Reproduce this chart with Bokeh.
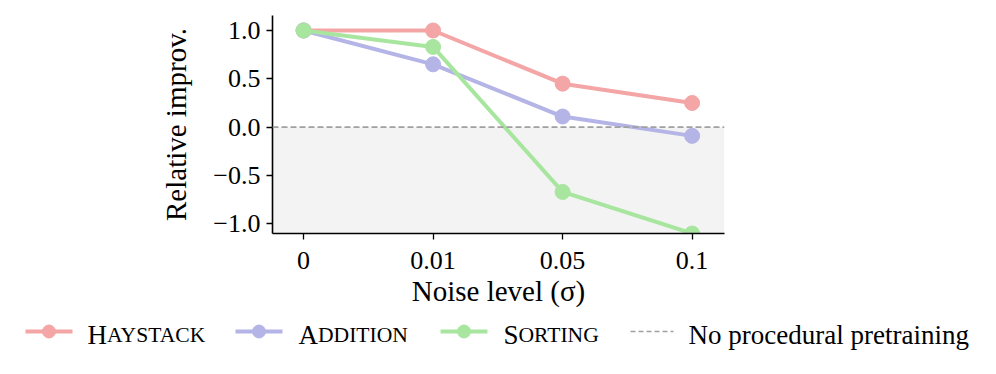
from bokeh.plotting import figure
from bokeh.models import (Range1d, FixedTicker, CustomJSTickFormatter, Span,
                          BoxAnnotation, ColumnDataSource)
from bokeh.core.properties import value
from bokeh.embed import file_html
from bokeh.resources import INLINE

# ---- data ----
noise_labels = ["0", "0.01", "0.05", "0.1"]
haystack = [1.0, 1.0, 0.45, 0.25]
addition = [1.0, 0.65, 0.11, -0.09]
sorting = [1.0, 0.83, -0.67, -1.10]
series_names = ["Haystack", "Addition", "Sorting"]
baseline_label = "No procedural pretraining"
y_ticks = [-1.0, -0.5, 0.0, 0.5, 1.0]

colors = ["#F4A6A6", "#B4B4E6", "#A8E6A0"]
FONT = "Liberation Serif"
W = 990

xs = list(range(len(noise_labels)))

p = figure(width=W, height=310, output_backend="svg", toolbar_location=None,
           x_range=Range1d(-0.24, 3.25), y_range=Range1d(-1.10, 1.155),
           min_border_left=272, min_border_right=W - 724, min_border_top=15,
           min_border_bottom=77)
p.outline_line_color = None
p.grid.visible = False
p.background_fill_color = "white"
p.border_fill_color = "white"

p.add_layout(BoxAnnotation(top=0, fill_color="#F3F3F3", fill_alpha=1.0,
                           line_color=None, level="underlay"))
p.add_layout(Span(location=0, dimension="width", line_color="#A0A0A0",
                  line_width=1.6, line_dash="6 3"))

for vals, c in zip([haystack, addition, sorting], colors):
    src = ColumnDataSource(dict(x=xs, y=vals))
    p.line("x", "y", source=src, line_color=c, line_width=4)
    p.scatter("x", "y", source=src, size=15, fill_color=c, line_color=c)

p.xaxis.ticker = FixedTicker(ticks=xs)
p.xaxis.major_label_overrides = {i: lab for i, lab in enumerate(noise_labels)}
p.yaxis.ticker = FixedTicker(ticks=y_ticks)
p.yaxis.formatter = CustomJSTickFormatter(
    code="return (tick < 0 ? '\u2212' : '') + Math.abs(tick).toFixed(1);")

for ax in (p.xaxis[0], p.yaxis[0]):
    ax.axis_line_width = 1.6
    ax.axis_line_color = "black"
    ax.major_tick_line_color = "black"
    ax.major_tick_line_width = 1.3
    ax.major_tick_out = 6
    ax.major_tick_in = 0
    ax.minor_tick_line_color = None
    ax.major_label_text_font = FONT
    ax.major_label_text_font_size = "26px"
    ax.major_label_text_color = "black"
    ax.axis_label_text_font = FONT
    ax.axis_label_text_font_size = "29px"
    ax.axis_label_text_font_style = "normal"
    ax.axis_label_text_color = "black"

p.xaxis.axis_label = "Noise level (\u03c3)"
p.yaxis.axis_label = "Relative improv."
p.xaxis.major_label_standoff = 12
p.xaxis.axis_label_standoff = 3
p.yaxis.major_label_standoff = 6
p.yaxis.axis_label_standoff = 18

# ---- legend (separate strip below the chart) ----
leg = figure(width=W, height=50, output_backend="svg", toolbar_location=None,
             x_range=Range1d(0, W), y_range=Range1d(0, 50),
             x_axis_location=None, y_axis_location=None, min_border=0)
leg.outline_line_color = None
leg.grid.visible = False

F = 27
small = 0.8 * F
first_w = {"H": 0.722, "A": 0.722, "S": 0.556}
line_starts = [25, 235, 440]
text_starts = [87, 298, 503]
line_y = 29
text_y = 26
for name, c, lx, tx in zip(series_names, colors, line_starts, text_starts):
    leg.line([lx, lx + 47], [line_y, line_y], line_color=c, line_width=4)
    leg.scatter([lx + 23.5], [line_y], size=13, fill_color=c, line_color=c)
    leg.text([tx], [text_y], text=[name[0]], text_font=value(FONT),
             text_font_size=value(f"{F}px"), text_baseline="alphabetic",
             text_align="left", text_color="black")
    leg.text([tx + first_w[name[0]] * F], [text_y], text=[name[1:].upper()],
             text_font=value(FONT), text_font_size=value(f"{small:.1f}px"),
             text_baseline="alphabetic", text_align="left", text_color="black")

leg.line([630, 673], [line_y, line_y], line_color="#A0A0A0", line_width=1.6,
         line_dash="5 3")
leg.text([688], [text_y], text=[baseline_label], text_font=value(FONT),
         text_font_size=value(f"{F}px"), text_baseline="alphabetic",
         text_align="left", text_color="black")

open("out.html", "w").write(file_html([p, leg], INLINE))
